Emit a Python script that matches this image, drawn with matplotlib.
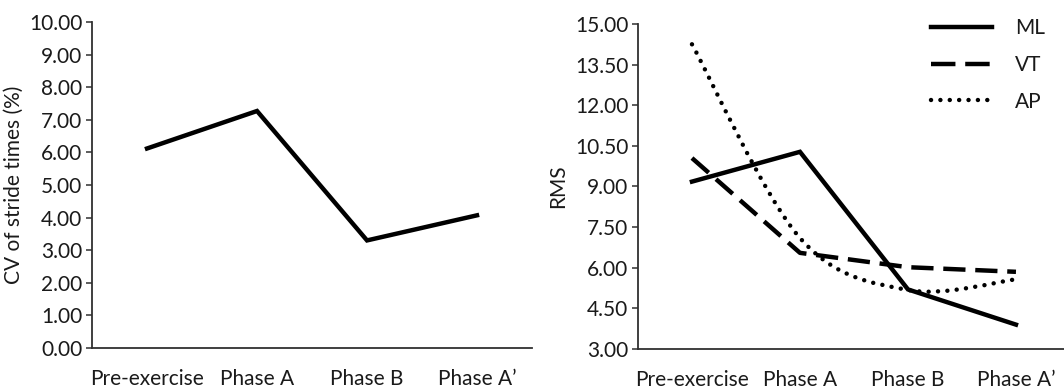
import matplotlib
matplotlib.use('Agg')
import matplotlib.pyplot as plt
from matplotlib.path import Path
from matplotlib.patches import PathPatch
from matplotlib.lines import Line2D
import numpy as np

plt.rcParams['font.family'] = ['Lato', 'DejaVu Sans']

# data
phases = ['Pre-exercise', 'Phase A', 'Phase B', 'Phase A\u2019']
cv_stride = [6.12, 7.27, 3.30, 4.07]
rms_ml = [9.18, 10.28, 5.20, 3.90]
rms_vt = [10.05, 6.55, 6.02, 5.85]
rms_ap = [14.25, 7.10, 5.18, 5.57]

TXT = '#1a1a1a'
AX = '#303030'
LW = 3.2
FS = 15

fig = plt.figure(figsize=(10.64, 3.88), dpi=100)
ax1 = fig.add_axes([0.0865, 0.1031, 0.4135, 0.8402])
ax2 = fig.add_axes([0.5996, 0.1005, 0.406, 0.8377])


def style_axis(ax, lo, hi, step):
    ax.set_xlim(-0.5, len(phases) - 0.5)
    ax.set_ylim(lo, hi)
    ax.set_yticks(np.arange(lo, hi + step / 2, step))
    ax.yaxis.set_major_formatter(plt.FormatStrFormatter('%.2f'))
    ax.set_xticks(range(len(phases)))
    ax.set_xticklabels(phases)
    for s in ['top', 'right']:
        ax.spines[s].set_visible(False)
    for s in ['left', 'bottom']:
        ax.spines[s].set_color(AX)
        ax.spines[s].set_linewidth(1.3)
    ax.tick_params(axis='y', length=4, width=1.1, color=AX, labelsize=FS,
                   labelcolor=TXT, pad=3)
    ax.tick_params(axis='x', length=0, labelsize=FS, labelcolor=TXT, pad=15)


def smooth_path(xs, ys):
    # Excel-style smoothed line: Catmull-Rom segments as cubic Beziers
    pts = np.column_stack([xs, ys]).astype(float)
    n = len(pts)
    verts = [pts[0]]
    codes = [Path.MOVETO]
    for i in range(n - 1):
        p_prev = pts[max(i - 1, 0)]
        p0 = pts[i]
        p1 = pts[i + 1]
        p_next = pts[min(i + 2, n - 1)]
        c1 = p0 + (p1 - p_prev) / 6.0
        c2 = p1 - (p_next - p0) / 6.0
        verts += [c1, c2, p1]
        codes += [Path.CURVE4] * 3
    return Path(verts, codes)


# left panel
style_axis(ax1, 0, 10, 1)
x = np.arange(len(phases))
ax1.plot(x, cv_stride, color='black', lw=LW, solid_joinstyle='miter')
ax1.set_ylabel('CV of stride times (%)', fontsize=15, color=TXT, labelpad=4)

# right panel
style_axis(ax2, 3, 15, 1.5)
ax2.plot(x, rms_ml, color='black', lw=LW, solid_joinstyle='miter')
ax2.plot(x, rms_vt, color='black', lw=LW, linestyle=(0, (5, 2.2)))
ap_patch = PathPatch(smooth_path(x, rms_ap), facecolor='none',
                     edgecolor='black', lw=LW, linestyle=(0, (0.01, 2.1)),
                     capstyle='round', transform=ax2.transData)
ax2.add_patch(ap_patch)
ax2.set_ylabel('RMS', fontsize=15, color=TXT, labelpad=5)

handles = [
    Line2D([], [], color='black', lw=LW),
    Line2D([], [], color='black', lw=LW, linestyle=(0, (5.5, 2.2))),
    Line2D([], [], color='black', lw=LW, linestyle=(0, (0.01, 2.1)),
           dash_capstyle='round'),
]
leg = ax2.legend(handles, ['ML', 'VT', 'AP'], loc='upper right',
                 bbox_to_anchor=(0.985, 1.075), frameon=False, fontsize=FS,
                 handlelength=2.9, handletextpad=1.1, labelspacing=0.8)
for t in leg.get_texts():
    t.set_color(TXT)

fig.savefig('out.png', dpi=100, facecolor='white')
